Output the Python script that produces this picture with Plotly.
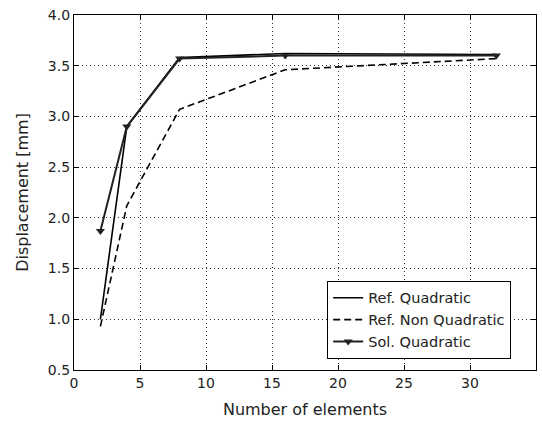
import plotly.graph_objects as go

elements = [2, 4, 8, 16, 32]
ref_quadratic = [1.00, 2.90, 3.58, 3.62, 3.61]
ref_non_quadratic = [0.93, 2.12, 3.07, 3.46, 3.57]
sol_quadratic = [1.87, 2.90, 3.57, 3.60, 3.60]

fig = go.Figure()
fig.add_trace(go.Scatter(x=elements, y=ref_quadratic, mode="lines", name="Ref. Quadratic",
                         line=dict(color="black", width=1.6)))
fig.add_trace(go.Scatter(x=elements, y=ref_non_quadratic, mode="lines", name="Ref. Non Quadratic",
                         line=dict(color="black", width=1.6, dash="7px,4px")))
fig.add_trace(go.Scatter(x=elements, y=sol_quadratic, mode="lines+markers", name="Sol. Quadratic",
                         line=dict(color="#222222", width=2),
                         marker=dict(symbol="triangle-down", size=8, color="#222222")))

axis_common = dict(
    showline=True, linecolor="black", linewidth=1.2, mirror="ticks",
    ticks="inside", ticklen=5, tickcolor="black",
    showgrid=True, gridcolor="#333333", gridwidth=1, griddash="1px,3px",
    zeroline=False, tickfont=dict(family="DejaVu Sans", size=14, color="#222222"),
)

fig.update_xaxes(range=[0, 35], dtick=5, title=dict(text="Number of elements",
                 font=dict(family="DejaVu Sans", size=16, color="#222222"), standoff=13), **axis_common)
fig.update_yaxes(range=[0.5, 4.0], dtick=0.5, tickformat=".1f", title=dict(text="Displacement [mm]",
                 font=dict(family="DejaVu Sans", size=16, color="#222222"), standoff=15), **axis_common)

fig.update_layout(
    width=542, height=425,
    margin=dict(l=74, r=6, t=15, b=55),
    plot_bgcolor="white", paper_bgcolor="white",
    legend=dict(x=0.548, y=0.251, xanchor="left", yanchor="top",
                bordercolor="black", borderwidth=1, bgcolor="white",
                font=dict(family="DejaVu Sans", size=14.5, color="#222222"),
                tracegroupgap=0, itemwidth=30),
)

fig.write_html("out.html")
